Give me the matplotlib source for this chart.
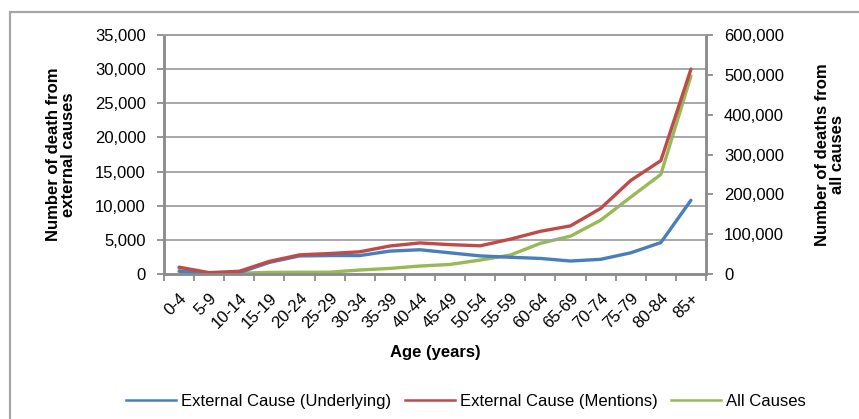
import matplotlib
matplotlib.use("Agg")
from matplotlib import pyplot as plt
from matplotlib.patches import Rectangle
from matplotlib.lines import Line2D
from matplotlib.ticker import FuncFormatter

plt.rcParams['font.family'] = ['Liberation Sans', 'DejaVu Sans']

# age groups
ages = ["0-4", "5-9", "10-14", "15-19", "20-24", "25-29", "30-34", "35-39", "40-44",
        "45-49", "50-54", "55-59", "60-64", "65-69", "70-74", "75-79", "80-84", "85+"]

# deaths, left axis
underlying = [400, 50, 200, 1700, 2650, 2700, 2700, 3350, 3550,
              3100, 2650, 2450, 2280, 1900, 2150, 3100, 4600, 10800]
mentions = [1000, 200, 400, 1850, 2800, 3000, 3250, 4100, 4550,
            4300, 4130, 5100, 6250, 7050, 9600, 13700, 16600, 30000]
# deaths, right axis
all_causes = [14000, 1500, 2000, 4000, 4500, 4500, 10000, 14000, 20000,
              24000, 35000, 47500, 77000, 95000, 135000, 193000, 250000, 497000]

W, H = 859, 419
fig = plt.figure(figsize=(W / 100, H / 100), dpi=100)

# outer chart border
fig.patches.append(Rectangle((10 / W, -0.1), 1.2, (H - 12) / H + 0.1,
                             transform=fig.transFigure, fill=False,
                             edgecolor="#a6a6a6", linewidth=1.6))

x0, x1, y0, y1 = 164, 706, 35, 274
ax = fig.add_axes([x0 / W, (H - y1) / H, (x1 - x0) / W, (y1 - y0) / H])
ax2 = ax.twinx()

xs = list(range(len(ages)))
blue, red, green = "#4a7ebb", "#be4b48", "#98b954"
ax.plot(xs, underlying, color=blue, linewidth=2.4, solid_capstyle="round")
ax.plot(xs, mentions, color=red, linewidth=2.4, solid_capstyle="round")
ax2.plot(xs, all_causes, color=green, linewidth=2.4, solid_capstyle="round")
ax.set_zorder(ax2.get_zorder() + 1)
ax.patch.set_visible(False)

ax.set_xlim(-0.5, len(ages) - 0.5)
ax.set_ylim(0, 35000)
ax.set_yticks(range(0, 35001, 5000))
ax2.set_ylim(0, 600000)
ax2.set_yticks(range(0, 600001, 100000))
fmt = FuncFormatter(lambda v, p: f"{int(v):,}")
ax.yaxis.set_major_formatter(fmt)
ax2.yaxis.set_major_formatter(fmt)

ax.grid(axis="y", color="#a0a0a0", linewidth=1.3)
ax.set_axisbelow(True)

# ticks between categories, labels centred
ax.set_xticks([i - 0.5 for i in range(len(ages) + 1)])
ax.set_xticklabels([])
ax.set_xticks(xs, minor=True)
ax.set_xticklabels(ages, minor=True, rotation=45, ha="right", va="top",
                   rotation_mode="anchor", fontsize=12)
ax.tick_params(axis="x", which="minor", length=0, pad=12)
ax.tick_params(axis="x", which="major", length=5, width=1.3, color="#8c8c8c")
ax.tick_params(axis="y", length=5, width=1.3, color="#8c8c8c", labelsize=12, pad=8)
ax2.tick_params(axis="y", length=5, width=1.3, color="#8c8c8c", labelsize=12, pad=8)

for a in (ax, ax2):
    for s in a.spines.values():
        s.set_color("#8c8c8c")
        s.set_linewidth(1.8)
    a.spines["top"].set_color("#a0a0a0")
    a.spines["top"].set_linewidth(1.3)

ax.set_xlabel("Age (years)", fontsize=12, fontweight="bold", labelpad=10)
ax.set_ylabel("Number of death from\nexternal causes", fontsize=12,
              fontweight="bold", linespacing=1.0, labelpad=14)
ax2.set_ylabel("Number of deaths from\nall causes", fontsize=12,
               fontweight="bold", linespacing=1.0, labelpad=22)

handles = [Line2D([], [], color=c, linewidth=1.8) for c in (blue, red, green)]
fig.legend(handles,
           ["External Cause (Underlying)", "External Cause (Mentions)", "All Causes"],
           loc="center", bbox_to_anchor=(466 / W, 1 - 401 / H), ncol=3,
           frameon=False, fontsize=12, handlelength=3.0, handletextpad=0.3,
           columnspacing=0.8)

fig.savefig("out.png", dpi=100)
